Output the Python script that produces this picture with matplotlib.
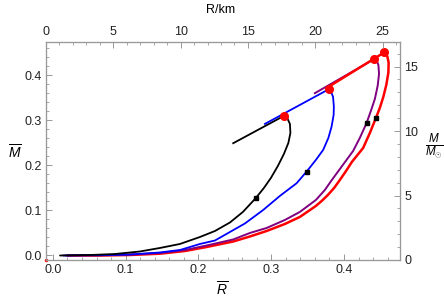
import matplotlib
matplotlib.use("Agg")
from matplotlib import pyplot as plt
from matplotlib.ticker import MultipleLocator

plt.rcParams['font.family'] = ['Liberation Sans', 'DejaVu Sans']
plt.rcParams['mathtext.fontset'] = 'custom'
plt.rcParams['mathtext.rm'] = 'Liberation Sans'
plt.rcParams['mathtext.it'] = 'Liberation Sans:italic'

# stable branches (R_bar, M_bar), from small stars up to the mass maximum
black_R = [0.0098, 0.051, 0.0853, 0.1196, 0.1471, 0.1746, 0.2021, 0.2227, 0.2433, 0.2611, 0.2786,
           0.2900, 0.2996, 0.3092, 0.3175, 0.3236, 0.3264, 0.3257, 0.3222, 0.3175]
black_M = [0.0, 0.0011, 0.0033, 0.0089, 0.0167, 0.0256, 0.0411, 0.0544, 0.0733, 0.0967, 0.1271,
           0.150, 0.1722, 0.1989, 0.2256, 0.250, 0.2722, 0.2922, 0.3044, 0.310]
blue_R = [0.0143, 0.0647, 0.1059, 0.1471, 0.1746, 0.2021, 0.2227, 0.2433, 0.2639, 0.289, 0.3119,
          0.3349, 0.3486, 0.3614, 0.3714, 0.3786, 0.3830, 0.3858, 0.3861, 0.3850, 0.3820, 0.3793]
blue_M = [0.0, 0.0007, 0.0022, 0.0067, 0.0122, 0.0256, 0.0333, 0.0522, 0.0711, 0.1011, 0.1322,
          0.1604, 0.1862, 0.2122, 0.2344, 0.2611, 0.2862, 0.3122, 0.3307, 0.3522, 0.3644, 0.3693]
purple_R = [0.0180, 0.0647, 0.1059, 0.1471, 0.1815, 0.2113, 0.2478, 0.2707, 0.2937, 0.3188, 0.3394,
            0.3614, 0.3738, 0.3834, 0.3985, 0.4126, 0.4218, 0.4310, 0.4370, 0.4425, 0.4463, 0.4482,
            0.4473, 0.4448, 0.4415]
purple_M = [0.0, 0.0004, 0.0018, 0.0056, 0.0122, 0.0222, 0.0356, 0.0500, 0.0611, 0.0789, 0.0967,
            0.1233, 0.1456, 0.1678, 0.2011, 0.2322, 0.2611, 0.2938, 0.3211, 0.3478, 0.3767, 0.4033,
            0.4233, 0.4327, 0.4360]
red_R = [0.0207, 0.0647, 0.1059, 0.1471, 0.1815, 0.2113, 0.2478, 0.2707, 0.2937, 0.3188, 0.3394,
         0.3614, 0.3700, 0.3779, 0.3865, 0.3944, 0.4030, 0.4109, 0.4190, 0.4264, 0.4356, 0.4438,
         0.4493, 0.4541, 0.4582, 0.4610, 0.4614, 0.4596, 0.4552]
red_M = [0.0, 0.0, 0.0011, 0.0040, 0.0100, 0.0189, 0.0311, 0.0422, 0.0544, 0.0700, 0.0856,
         0.1100, 0.1220, 0.1344, 0.1500, 0.1678, 0.1880, 0.2078, 0.2240, 0.2389, 0.2722, 0.3049,
         0.3278, 0.3522, 0.3789, 0.4056, 0.4278, 0.4422, 0.4507]

# unstable straight branches (from the mass maximum back down)
black_line_R = [0.3175, 0.2478]
black_line_M = [0.310, 0.2493]
blue_line_R = [0.3793, 0.2914]
blue_line_M = [0.3693, 0.2922]
purple_line_R = [0.4415, 0.3600]
purple_line_M = [0.4360, 0.3604]
red_line_R = [0.4552, 0.3765]
red_line_M = [0.4507, 0.3722]

# maximum mass points and marked points
max_R = [0.3175, 0.3793, 0.4415, 0.4552]
max_M = [0.310, 0.3693, 0.4360, 0.4507]
sq_R = [0.2786, 0.3486, 0.4310, 0.4438]
sq_M = [0.1271, 0.1862, 0.2938, 0.3049]

W, H = 444, 299
fig = plt.figure(figsize=(W / 100, H / 100), dpi=100)
ax = fig.add_axes([46 / W, 1 - 260 / H, 354 / W, 218 / H])

kw = dict(solid_capstyle='round', solid_joinstyle='round')
ax.plot(red_R, red_M, color='red', lw=1.8, **kw)
ax.plot(purple_R, purple_M, color='#800080', lw=1.4, **kw)
ax.plot(blue_R, blue_M, color='blue', lw=1.3, **kw)
ax.plot(black_R, black_M, color='black', lw=1.3, **kw)
ax.plot(black_line_R, black_line_M, color='black', lw=1.3)
ax.plot(blue_line_R, blue_line_M, color='blue', lw=1.3)
ax.plot(purple_line_R, purple_line_M, color='#800080', lw=1.4)
ax.plot(red_line_R, red_line_M, color='red', lw=1.8)
ax.plot(max_R, max_M, 'o', color='red', ms=5.5, zorder=5)
ax.plot(sq_R, sq_M, 's', color='black', ms=3.2, zorder=5)
ax.plot([0], [0], 'o', color='red', ms=1.5, transform=ax.transAxes, clip_on=False)

ax.set_xlim(-0.0095, 0.477)
ax.set_ylim(-0.01, 0.474)
ax.xaxis.set_major_locator(MultipleLocator(0.1))
ax.xaxis.set_minor_locator(MultipleLocator(0.02))
ax.yaxis.set_major_locator(MultipleLocator(0.1))
ax.yaxis.set_minor_locator(MultipleLocator(0.02))
ax.xaxis.set_major_formatter(plt.FuncFormatter(lambda v, p: f"{v:.1f}"))
ax.yaxis.set_major_formatter(plt.FuncFormatter(lambda v, p: f"{v:.1f}"))

top = ax.twiny()
top.set_xlim(0, 26.3)
top.xaxis.set_major_locator(MultipleLocator(5))
top.xaxis.set_minor_locator(MultipleLocator(1))
right = ax.twinx()
right.set_ylim(0, 16.9)
right.yaxis.set_major_locator(MultipleLocator(5))
right.yaxis.set_minor_locator(MultipleLocator(1))

frame = '#999999'
for a in (ax, top, right):
    for s in a.spines.values():
        s.set_color(frame)
        s.set_linewidth(0.8)
    a.tick_params(which='major', direction='in', length=4, width=0.7, color=frame,
                  labelsize=9, labelcolor='#222222', pad=3)
    a.tick_params(which='minor', direction='in', length=2, width=0.6, color=frame)
ax.tick_params(top=False, right=False, which='both')

fig.text(221 / W, 1 - 10 / H, 'R/km', ha='center', va='center', fontsize=9)
fig.text(222 / W, 1 - 289 / H, r'$\overline{R}$', ha='center', va='center', fontsize=10)
fig.text(15 / W, 1 - 152 / H, r'$\overline{M}$', ha='center', va='center', fontsize=10)
fig.text(434 / W, 1 - 146 / H, r'$\frac{M}{M_{\odot}}$', ha='center', va='center', fontsize=12)

fig.savefig('out.png', dpi=100)
